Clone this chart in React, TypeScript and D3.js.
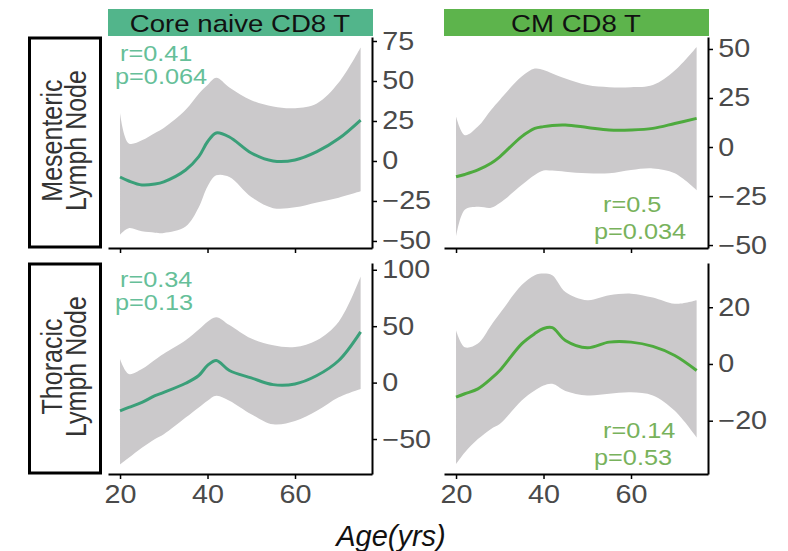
import React, { useEffect, useRef } from "react";
import * as d3 from "d3";

// age grid shared by all four fits
const ages = [20, 22, 25, 28, 30, 35, 38, 40, 42, 45, 50, 55, 60, 65, 70, 75];
const xTicks = [20, 40, 60];

const cellTypes = ["Core naive CD8 T", "CM CD8 T"];
const tissues = [["Mesenteric", "Lymph Node"], ["Thoracic", "Lymph Node"]];

// Core naive CD8 T, mesenteric LN
const naiveMesFit = [-10, -12.5, -15, -14.4, -13, -5.6, 2.7, 12, 17.5, 15, 5, 0, 0.6, 5.8, 14, 25.6];
const naiveMesUpper = [30, 11, 13, 17.5, 20.6, 32, 42, 47.5, 52, 46, 38, 34, 33, 36, 49, 71];
const naiveMesLower = [-46, -42, -44, -44.8, -45, -41, -29, -16, -9, -10, -22.5, -29.5, -29, -26, -23, -19];
const naiveMesTicks = [-50, -25, 0, 25, 50, 75];

// CM CD8 T, mesenteric LN
const cmMesFit = [-15.2, -14, -11.7, -8.3, -5, 5.3, 9.5, 10.4, 11, 11.2, 10, 8.7, 8.7, 9.5, 12, 14.6];
const cmMesUpper = [15.5, 6, 10.4, 18.9, 24, 35.9, 40, 39.3, 37.5, 35, 31.6, 30.5, 30.5, 31.6, 39, 51];
const cmMesLower = [-45.8, -32, -30.5, -31, -28.6, -19.4, -14.3, -12, -12, -12.6, -13.4, -13.4, -11.7, -10.9, -13.4, -22];
const cmMesTicks = [-50, -25, 0, 25, 50];

// Core naive CD8 T, thoracic LN
const naiveThoFit = [-25, -22, -17.6, -11.6, -8.7, -0.6, 6.3, 15.2, 19.6, 10.7, 4.2, -1.8, -1.2, 6.3, 19.6, 45];
const naiveThoUpper = [21, 7.7, 12, 20.3, 25.6, 37.5, 47, 54, 58, 51, 39, 33, 31.5, 37.5, 54, 94];
const naiveThoLower = [-72.6, -66.7, -57.8, -50, -45.8, -31, -22, -16, -11.6, -16, -28, -37, -34, -25, -13, -5.6];
const naiveThoTicks = [-50, 0, 50, 100];

// CM CD8 T, thoracic LN
const cmThoFit = [-11.7, -10.5, -8.8, -5.2, -2.3, 7.1, 10.7, 12.5, 12.8, 8.3, 5.7, 7.7, 7.7, 6.2, 3, -2.3];
const cmThoUpper = [11.9, 5.9, 7.2, 13.6, 17.8, 27.8, 31.3, 31.9, 31.3, 25.4, 22.5, 24.2, 24.8, 23.4, 21.2, 22.5];
const cmThoLower = [-35.3, -31.2, -26.5, -22.9, -21.2, -12.9, -9.4, -7.6, -7, -9.5, -11.1, -10.5, -10, -11.1, -16.5, -25.9];
const cmThoTicks = [-20, 0, 20];

const stats = [
  ["r=0.41", "p=0.064"],
  ["r=0.5", "p=0.034"],
  ["r=0.34", "p=0.13"],
  ["r=0.14", "p=0.53"],
];

const FONT = "'Liberation Sans', Arial, sans-serif";
const SX = 1.15; // the source figure's text is a little wide

export default function App() {
  const ref = useRef<SVGSVGElement>(null);

  useEffect(() => {
    const svg = d3.select(ref.current);
    svg.selectAll("*").remove();

    const colLeft = [108, 444];
    const rowTop = [37, 263];
    const panelW = 264;
    const panelH = 211;
    const headerFill = ["#52b58b", "#5db44c"];
    const lineColor = ["#3a9f79", "#4eaa3e"];
    const textColor = ["#66bf99", "#78b25c"];

    const panels = [
      { row: 0, col: 0, fit: naiveMesFit, upper: naiveMesUpper, lower: naiveMesLower, domain: [-54.4, 77.5], ticks: naiveMesTicks, stat: stats[0], corner: "tl" },
      { row: 0, col: 1, fit: cmMesFit, upper: cmMesUpper, lower: cmMesLower, domain: [-51.5, 56.1], ticks: cmMesTicks, stat: stats[1], corner: "br" },
      { row: 1, col: 0, fit: naiveThoFit, upper: naiveThoUpper, lower: naiveThoLower, domain: [-81, 106], ticks: naiveThoTicks, stat: stats[2], corner: "tl" },
      { row: 1, col: 1, fit: cmThoFit, upper: cmThoUpper, lower: cmThoLower, domain: [-38.8, 35.6], ticks: cmThoTicks, stat: stats[3], corner: "br" },
    ];

    // column strips
    cellTypes.forEach((name, c) => {
      svg.append("rect")
        .attr("x", colLeft[c]).attr("y", 9)
        .attr("width", panelW + 1).attr("height", 27)
        .attr("fill", headerFill[c]);
      svg.append("text")
        .attr("transform", `translate(${colLeft[c] + panelW / 2},32) scale(${SX},1)`)
        .attr("text-anchor", "middle")
        .style("font-family", FONT).style("font-size", "24px")
        .attr("fill", "#111")
        .text(name);
    });

    // row strips
    tissues.forEach((lines, r) => {
      const top = rowTop[r];
      svg.append("rect")
        .attr("x", 29.5).attr("y", top + 1)
        .attr("width", 71).attr("height", panelH - 2)
        .attr("fill", "#fff").attr("stroke", "#000").attr("stroke-width", 3);
      const cy = top + panelH / 2 - 2;
      lines.forEach((t, i) => {
        const bx = i === 0 ? 62 : 86;
        svg.append("text")
          .attr("transform", `translate(${bx},${cy}) scale(${SX},1) rotate(-90)`)
          .attr("text-anchor", "middle")
          .style("font-family", FONT).style("font-size", "25px")
          .attr("fill", "#333")
          .text(t);
      });
    });

    const idx = ages.map((_, i) => i);

    panels.forEach(p => {
      const left = colLeft[p.col];
      const top = rowTop[p.row];
      const x = d3.scaleLinear().domain([17.25, 77.6]).range([left, left + panelW]);
      const y = d3.scaleLinear().domain(p.domain).range([top + panelH, top]);
      const g = svg.append("g");

      const area = d3.area<number>()
        .x(i => x(ages[i]))
        .y0(i => y(p.lower[i]))
        .y1(i => y(p.upper[i]))
        .curve(d3.curveCatmullRom);
      g.append("path").attr("d", area(idx)).attr("fill", "#cbc9cb");

      const line = d3.line<number>()
        .x(i => x(ages[i]))
        .y(i => y(p.fit[i]))
        .curve(d3.curveCatmullRom);
      g.append("path").attr("d", line(idx))
        .attr("fill", "none").attr("stroke", lineColor[p.col]).attr("stroke-width", 3);

      // axes
      const xAxis = d3.axisBottom(x).tickValues(xTicks).tickSize(5).tickSizeOuter(0).tickPadding(6)
        .tickFormat(p.row === 1 ? (d => String(d)) : () => "");
      const ax = g.append("g").attr("transform", `translate(0,${top + panelH})`).call(xAxis);
      const yAxis = d3.axisRight(y).tickValues(p.ticks).tickSize(5).tickSizeOuter(0).tickPadding(4);
      const ay = g.append("g").attr("transform", `translate(${left + panelW},0)`).call(yAxis);
      [ax, ay].forEach(a => {
        a.select(".domain").attr("stroke", "#000").attr("stroke-width", 2);
        a.selectAll(".tick line").attr("stroke", "#000").attr("stroke-width", 1.5);
        a.selectAll(".tick text")
          .attr("transform", `scale(${SX},1)`)
          .style("font-family", FONT).style("font-size", "25px").attr("fill", "#4a4a4a");
      });

      // correlation stats
      const [rs, ps] = p.stat;
      const tc = textColor[p.col];
      const rx = p.corner === "tl" ? left + 12 : left + 159;
      const px = p.corner === "tl" ? left + 7 : left + 150;
      const ry = p.corner === "tl" ? top + 24 : top + panelH - 36;
      const py = p.corner === "tl" ? top + 47 : top + panelH - 9;
      [[rs, rx, ry], [ps, px, py]].forEach(([t, tx, ty]) => {
        g.append("text")
          .attr("transform", `translate(${tx},${ty}) scale(${SX},1)`)
          .style("font-family", FONT).style("font-size", "22px")
          .attr("fill", tc)
          .text(t as string);
      });
    });

    svg.append("text")
      .attr("x", 391).attr("y", 546)
      .attr("text-anchor", "middle")
      .style("font-family", FONT).style("font-size", "29px").style("font-style", "italic")
      .attr("fill", "#111")
      .text("Age(yrs)");
  }, []);

  return (
    <svg ref={ref} width={788} height={551}
      style={{ position: "absolute", left: 0, top: 0, background: "#fff" }} />
  );
}
